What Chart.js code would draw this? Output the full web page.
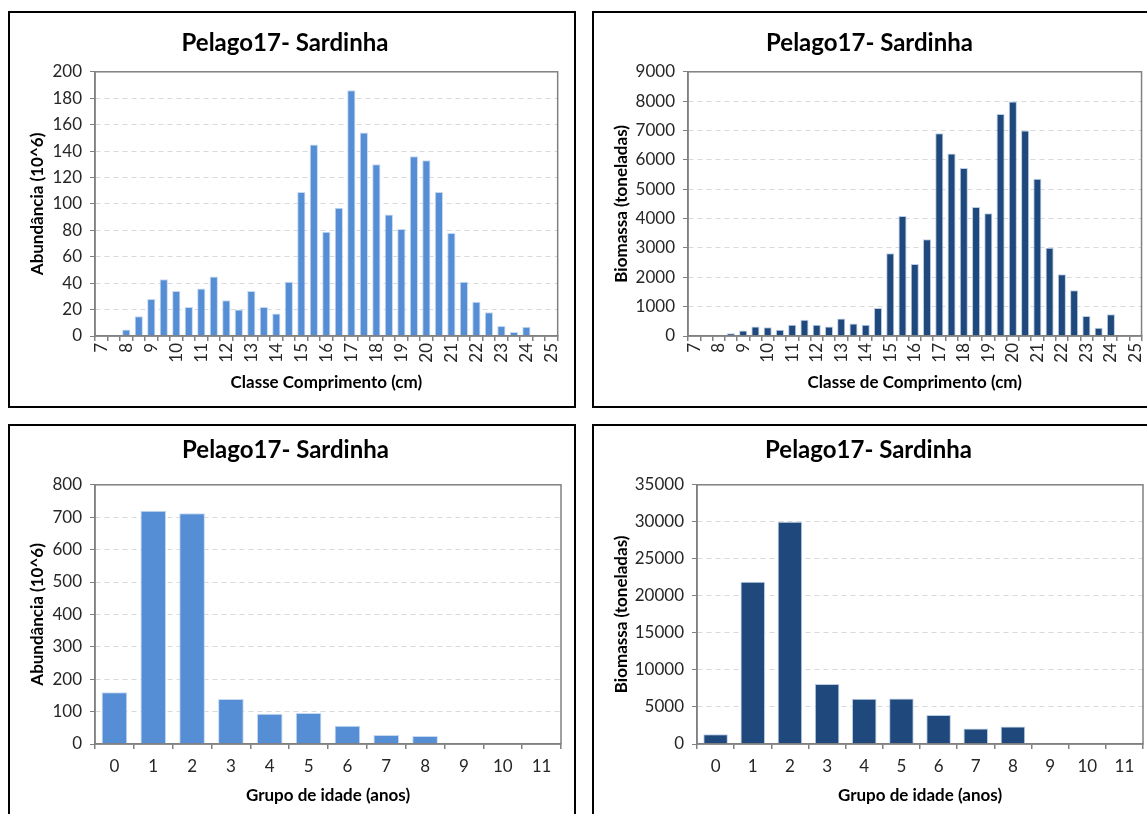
<!DOCTYPE html>
<html>
<head>
<meta charset="utf-8">
<title>Pelago17- Sardinha</title>
<script src="https://cdn.jsdelivr.net/npm/chart.js@4"></script>
<style>
    html, body { margin: 0; padding: 0; background: #fff; width: 1147px; height: 814px; overflow: hidden; }
    .caixa { position: absolute; width: 564px; height: 393px; border: 2px solid #000; background: #fff; }
    .caixa canvas { display: block; }
</style>
</head>
<body>
<div class="caixa" style="left:8px;top:11px"><canvas id="grapik1" width="564" height="393"></canvas></div>
<div class="caixa" style="left:592px;top:11px"><canvas id="grapik2" width="564" height="393"></canvas></div>
<div class="caixa" style="left:8px;top:424px"><canvas id="grapik3" width="564" height="393"></canvas></div>
<div class="caixa" style="left:592px;top:424px"><canvas id="grapik4" width="564" height="393"></canvas></div>
<script>
// classes de comprimento (cm), de meio em meio
var classes = [7, 7.5, 8, 8.5, 9, 9.5, 10, 10.5, 11, 11.5, 12, 12.5, 13, 13.5, 14, 14.5, 15, 15.5,
    16, 16.5, 17, 17.5, 18, 18.5, 19, 19.5, 20, 20.5, 21, 21.5, 22, 22.5, 23, 23.5, 24, 24.5, 25];
var abundClasse = [0, 1, 5, 15, 28, 43, 34, 22, 36, 45, 27, 20, 34, 22, 17, 41, 109, 145,
    79, 97, 186, 154, 130, 92, 81, 136, 133, 109, 78, 41, 26, 18, 7.5, 3, 7, 0.5, 0.5];
var biomClasse = [0, 30, 30, 90, 190, 320, 295, 215, 385, 555, 385, 320, 600, 430, 385, 955, 2820, 4090,
    2455, 3295, 6905, 6215, 5725, 4395, 4180, 7565, 7985, 7000, 5360, 3010, 2100, 1555, 680, 285, 740, 35, 35];

// grupos de idade (anos)
var idades = [0, 1, 2, 3, 4, 5, 6, 7, 8, 9, 10, 11];
var abundIdade = [160, 720, 712, 139, 93, 96, 56, 28, 25, 0, 0, 0];
var biomIdade = [1300, 21900, 30000, 8100, 6100, 6150, 3900, 2100, 2350, 0, 0, 0];

var titulo = 'Pelago17- Sardinha';
var azulClaro = '#558ed5';
var azulEscuro = '#1f497d';
var fonte = 'Lato';

// moldura cinzenta da area do grafico
var moldura = {
    id: 'moldura',
    afterDraw: function (chart) {
        var a = chart.chartArea;
        var c = chart.ctx;
        c.save();
        c.strokeStyle = '#808080';
        c.lineWidth = 1.5;
        c.strokeRect(a.left, a.top, a.right - a.left, a.bottom - a.top);
        c.restore();
    }
};

function grafico(id, cfg) {
    var ctx = document.getElementById(id).getContext('2d');
    return new Chart(ctx, {
        type: 'bar',
        data: {
            labels: cfg.labels,
            datasets: [{
                data: cfg.data,
                backgroundColor: cfg.cor,
                borderColor: cfg.borda,
                borderWidth: 1,
                barPercentage: 0.66,
                categoryPercentage: 1
            }]
        },
        plugins: [moldura],
        options: {
            responsive: false,
            animation: false,
            layout: { padding: { left: 0, right: cfg.direita, top: 0, bottom: 0 } },
            plugins: {
                legend: { display: false },
                tooltip: { enabled: false },
                title: {
                    display: true,
                    text: titulo,
                    color: '#000',
                    font: { family: fonte, size: 24, weight: 'bold' },
                    padding: cfg.tituloPad
                }
            },
            scales: {
                x: {
                    offset: true,
                    grid: { display: true, drawOnChartArea: false, offset: true, tickLength: 5, color: '#808080', lineWidth: 1.5 },
                    border: { color: '#808080', width: 1.5 },
                    ticks: {
                        autoSkip: false,
                        color: '#262626',
                        padding: cfg.rodar ? 2 : 7,
                        minRotation: cfg.rodar ? 90 : 0,
                        maxRotation: cfg.rodar ? 90 : 0,
                        font: { family: fonte, size: 17 },
                        callback: function (v, i) {
                            var l = this.getLabelForValue(v);
                            return Number(l) % 1 === 0 ? String(l) : '';
                        }
                    },
                    title: {
                        display: true,
                        text: cfg.tituloX,
                        color: '#000',
                        font: { family: fonte, size: 17, weight: 'bold' },
                        padding: { top: 0, bottom: 13 }
                    },
                    afterFit: function (s) { s.height = cfg.alturaX; }
                },
                y: {
                    min: 0,
                    max: cfg.max,
                    grid: {
                        color: function (c) { return c.tick && (c.tick.value === 0 || c.tick.value === cfg.max) ? 'rgba(0,0,0,0)' : '#d9d9d9'; },
                        tickColor: '#808080',
                        tickLength: 5,
                        lineWidth: 1
                    },
                    border: { color: '#808080', width: 1.5, dash: [5, 4] },
                    ticks: {
                        stepSize: cfg.passo,
                        color: '#262626',
                        padding: 8,
                        font: { family: fonte, size: 17 },
                        callback: function (v) { return String(v); }
                    },
                    title: {
                        display: true,
                        text: cfg.tituloY,
                        color: '#000',
                        font: { family: fonte, size: 17, weight: 'bold' },
                        padding: { top: 17, bottom: 0 }
                    },
                    afterFit: function (s) { s.width = cfg.larguraY; }
                }
            }
        }
    });
}

grafico('grapik1', {
    labels: classes, data: abundClasse, cor: azulClaro, borda: '#c6d9f1',
    max: 200, passo: 20, rodar: true,
    tituloX: 'Classe Comprimento (cm)', tituloY: 'Abundância (10^6)',
    larguraY: 85, alturaX: 70, direita: 14,
    tituloPad: { top: 16, bottom: 14 }
});

grafico('grapik2', {
    labels: classes, data: biomClasse, cor: azulEscuro, borda: '#b9cde5',
    max: 9000, passo: 1000, rodar: true,
    tituloX: 'Classe de Comprimento (cm)', tituloY: 'Biomassa (toneladas)',
    larguraY: 94, alturaX: 70, direita: 13,
    tituloPad: { top: 16, bottom: 14 }
});

grafico('grapik3', {
    labels: idades, data: abundIdade, cor: azulClaro, borda: '#c6d9f1',
    max: 800, passo: 100, rodar: false,
    tituloX: 'Grupo de idade (anos)', tituloY: 'Abundância (10^6)',
    larguraY: 85, alturaX: 75, direita: 13,
    tituloPad: { top: 10, bottom: 20 }
});

grafico('grapik4', {
    labels: idades, data: biomIdade, cor: azulEscuro, borda: '#b9cde5',
    max: 35000, passo: 5000, rodar: false,
    tituloX: 'Grupo de idade (anos)', tituloY: 'Biomassa (toneladas)',
    larguraY: 103, alturaX: 75, direita: 15,
    tituloPad: { top: 10, bottom: 20 }
});
</script>
</body>
</html>
